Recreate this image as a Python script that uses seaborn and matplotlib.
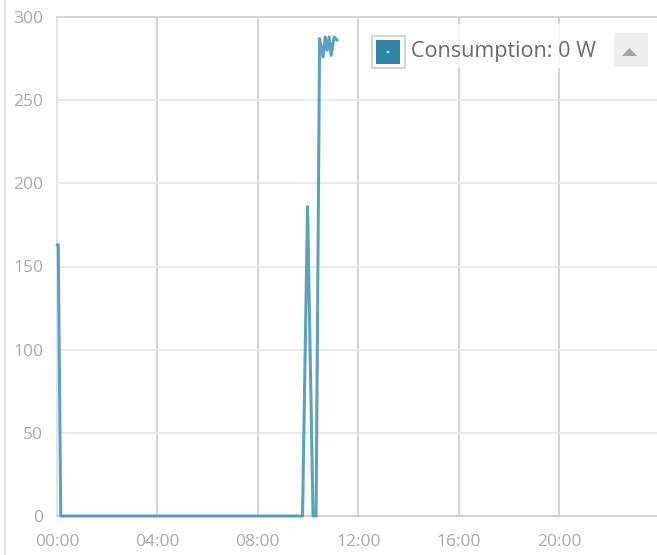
import pandas as pd
import matplotlib.pyplot as plt
import seaborn as sns
from matplotlib.lines import Line2D
from matplotlib.patches import Rectangle, Polygon, Circle

# ---------------- DADOS ----------------
# hora do dia (em horas decimais) e consumo em W
horas = [0.00, 0.05, 0.15, 2.00, 4.00, 6.00, 8.00, 9.40,
         9.78, 9.98, 10.20, 10.32, 10.46, 10.60, 10.68, 10.76, 10.84,
         10.92, 11.04, 11.16]
consumo = [163, 163, 0, 0, 0, 0, 0, 0,
           0, 186, 0, 0, 287, 276, 288, 280, 288,
           277, 288, 286]

xticks = [0, 4, 8, 12, 16, 20]
xtick_labels = ['00:00', '04:00', '08:00', '12:00', '16:00', '20:00']
yticks = [0, 50, 100, 150, 200, 250, 300]
legenda = 'Consumption: 0 W'

df = pd.DataFrame({'hora': horas, 'consumo': consumo})

cor_linha = '#4a98b6'
cor_swatch = '#2f88aa'

W, H = 657, 555


def fx(x):
    # pixel -> fração da figura (horizontal)
    return x / W


def fy(y):
    # pixel (de cima) -> fração da figura (vertical)
    return 1 - y / H


# ---------------- FIGURA ----------------
sns.set_style('white')
plt.rcParams['font.family'] = ['Open Sans', 'DejaVu Sans']

fig = plt.figure(figsize=(W / 100, H / 100), dpi=100)
ax = fig.add_axes([57 / W, 39 / H, 600 / W, 499 / H])

sns.lineplot(data=df, x='hora', y='consumo', ax=ax, color=cor_linha,
             linewidth=2.2, alpha=0.9, zorder=3)
for ln in ax.get_lines():
    ln.set_clip_on(False)

ax.set_xlim(0, 23.9)
ax.set_ylim(0, 300)
ax.set_xticks(xticks)
ax.set_xticklabels(xtick_labels)
ax.set_yticks(yticks)
ax.set_xlabel('')
ax.set_ylabel('')

# grade: verticais mais escuras, horizontais claras
for x in xticks[1:]:
    ax.axvline(x, color='#cccccc', linewidth=1.2, zorder=1)
for y in yticks[1:-1]:
    ax.axhline(y, color='#e6e6e6', linewidth=1.2, zorder=1)

ax.spines['right'].set_visible(False)
ax.spines['top'].set_color('#d6d6d6')
ax.spines['top'].set_linewidth(1.5)
ax.spines['left'].set_color('#e0e0e0')
ax.spines['left'].set_linewidth(1.2)
ax.spines['bottom'].set_color('#d0d0d0')
ax.spines['bottom'].set_linewidth(1.5)

ax.tick_params(axis='both', length=0, labelsize=12.5, labelcolor='#aaaaaa')
ax.tick_params(axis='y', pad=10)
ax.tick_params(axis='x', pad=13)

# ---------------- LEGENDA ----------------
# fundo branco semitransparente sobre a grade
fig.add_artist(Rectangle((fx(366), fy(68)), fx(612) - fx(366), fy(24) - fy(68),
                         transform=fig.transFigure, facecolor='white',
                         edgecolor='none', alpha=0.8))
# quadrado do marcador
fig.add_artist(Rectangle((fx(372), fy(68)), fx(405) - fx(372), fy(36) - fy(68),
                         transform=fig.transFigure, facecolor='white',
                         edgecolor='#cccccc', linewidth=1.2))
fig.add_artist(Rectangle((fx(376), fy(64)), fx(400) - fx(376), fy(40) - fy(64),
                         transform=fig.transFigure, facecolor=cor_swatch,
                         edgecolor='none'))
fig.add_artist(Circle((fx(388), fy(52)), 1.2 / W, transform=fig.transFigure,
                      facecolor='white', edgecolor='none'))
fig.text(fx(411), fy(52), legenda, ha='left', va='center', fontsize=15.5,
         color='#6a6a6a')

# botão com triângulo
fig.add_artist(Rectangle((fx(614), fy(67)), fx(648) - fx(614), fy(33) - fy(67),
                         transform=fig.transFigure, facecolor='#eeeeee',
                         edgecolor='none'))
fig.add_artist(Polygon([(fx(622), fy(56)), (fx(637), fy(56)), (fx(629.5), fy(48))],
                       closed=True, transform=fig.transFigure,
                       facecolor='#a5a5a5', edgecolor='none'))

# borda do contêiner à esquerda
fig.add_artist(Line2D([fx(5), fx(5)], [0, 1], color='#e4e4e4',
                      linewidth=1.5, transform=fig.transFigure))

plt.savefig('out.png', dpi=100)
